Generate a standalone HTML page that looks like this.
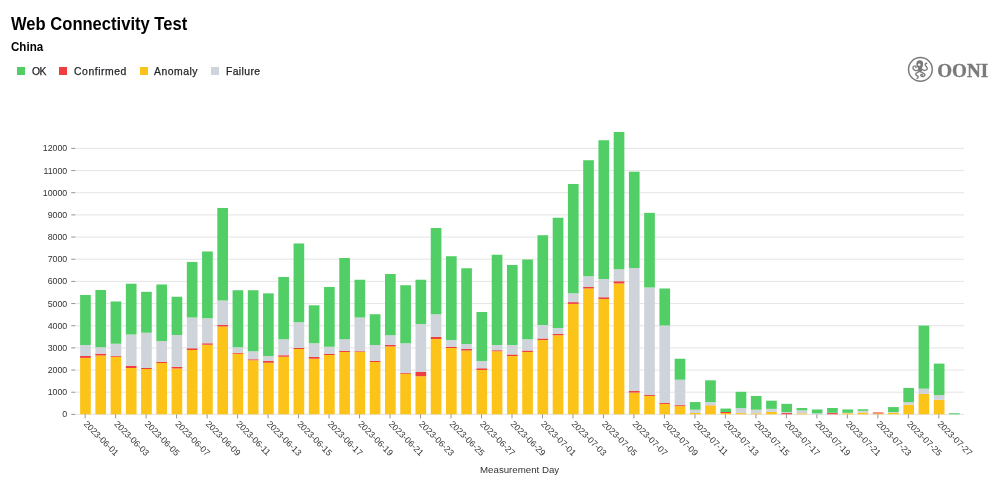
<!DOCTYPE html>
<html lang="en"><head><meta charset="utf-8"><title>Web Connectivity Test - China</title>
<style>
html,body{margin:0;padding:0;background:#fff;}
body{width:1000px;height:504px;position:relative;overflow:hidden;font-family:"Liberation Sans",sans-serif;color:#000;}
.title{position:absolute;left:11.2px;top:11.8px;font-size:17.5px;font-weight:bold;line-height:24px;white-space:nowrap;transform:scaleX(0.947);transform-origin:0 0;}
.sub{position:absolute;left:11.2px;top:38.3px;font-size:12.6px;font-weight:bold;line-height:18px;white-space:nowrap;transform:scaleX(0.92);transform-origin:0 0;}
.leg{position:absolute;top:63.8px;height:16px;line-height:16px;font-size:10.4px;color:#1f2226;white-space:nowrap;-webkit-text-stroke:0.25px #1f2226;}
.sw{position:absolute;top:67.3px;width:8px;height:8px;}
svg{position:absolute;left:0;top:0;}
.tk text{font-family:"Liberation Sans",sans-serif;font-size:8.8px;fill:#333333;}
.lg{font-family:"Liberation Sans",sans-serif;font-size:9.7px;fill:#333333;}
.ooni{font-family:"Liberation Serif",serif;font-weight:bold;font-size:19px;fill:#7a7a7a;stroke:#7a7a7a;stroke-width:0.35px;}
</style></head><body>
<div class="title">Web Connectivity Test</div>
<div class="sub">China</div>
<span class="sw" style="left:17.4px;background:#51cf66"></span><span class="leg" style="left:32px;letter-spacing:-0.7px">OK</span>
<span class="sw" style="left:59px;background:#f03e3e"></span><span class="leg" style="left:74px;letter-spacing:0.55px">Confirmed</span>
<span class="sw" style="left:139.7px;background:#fcc419"></span><span class="leg" style="left:154px;letter-spacing:0.52px">Anomaly</span>
<span class="sw" style="left:211px;background:#ced4da"></span><span class="leg" style="left:225.9px;letter-spacing:0.4px">Failure</span>
<svg width="1000" height="504" viewBox="0 0 1000 504">
<g stroke="#dddddd" stroke-width="0.8"><line x1="75.25" x2="964.00" y1="414.40" y2="414.40"/><line x1="75.25" x2="964.00" y1="392.23" y2="392.23"/><line x1="75.25" x2="964.00" y1="370.07" y2="370.07"/><line x1="75.25" x2="964.00" y1="347.90" y2="347.90"/><line x1="75.25" x2="964.00" y1="325.73" y2="325.73"/><line x1="75.25" x2="964.00" y1="303.57" y2="303.57"/><line x1="75.25" x2="964.00" y1="281.40" y2="281.40"/><line x1="75.25" x2="964.00" y1="259.23" y2="259.23"/><line x1="75.25" x2="964.00" y1="237.07" y2="237.07"/><line x1="75.25" x2="964.00" y1="214.90" y2="214.90"/><line x1="75.25" x2="964.00" y1="192.73" y2="192.73"/><line x1="75.25" x2="964.00" y1="170.57" y2="170.57"/><line x1="75.25" x2="964.00" y1="148.40" y2="148.40"/></g>
<g><rect x="80.12" y="357.89" width="10.67" height="56.41" fill="#fcc419"/><rect x="80.12" y="355.99" width="10.67" height="1.90" fill="#f03e3e"/><rect x="80.12" y="344.99" width="10.67" height="11.00" fill="#ced4da"/><rect x="80.12" y="294.99" width="10.67" height="50.00" fill="#51cf66"/><rect x="95.37" y="355.52" width="10.67" height="58.78" fill="#fcc419"/><rect x="95.37" y="353.62" width="10.67" height="1.90" fill="#f03e3e"/><rect x="95.37" y="347.25" width="10.67" height="6.37" fill="#ced4da"/><rect x="95.37" y="289.99" width="10.67" height="57.26" fill="#51cf66"/><rect x="110.61" y="356.74" width="10.67" height="57.56" fill="#fcc419"/><rect x="110.61" y="355.75" width="10.67" height="1.00" fill="#f03e3e"/><rect x="110.61" y="343.75" width="10.67" height="12.00" fill="#ced4da"/><rect x="110.61" y="301.47" width="10.67" height="42.27" fill="#51cf66"/><rect x="125.86" y="367.98" width="10.67" height="46.32" fill="#fcc419"/><rect x="125.86" y="365.99" width="10.67" height="1.99" fill="#f03e3e"/><rect x="125.86" y="334.50" width="10.67" height="31.50" fill="#ced4da"/><rect x="125.86" y="283.72" width="10.67" height="50.77" fill="#51cf66"/><rect x="141.10" y="369.00" width="10.67" height="45.30" fill="#fcc419"/><rect x="141.10" y="367.98" width="10.67" height="1.02" fill="#f03e3e"/><rect x="141.10" y="332.75" width="10.67" height="35.24" fill="#ced4da"/><rect x="141.10" y="291.82" width="10.67" height="40.92" fill="#51cf66"/><rect x="156.35" y="362.98" width="10.67" height="51.32" fill="#fcc419"/><rect x="156.35" y="361.74" width="10.67" height="1.24" fill="#f03e3e"/><rect x="156.35" y="340.98" width="10.67" height="20.76" fill="#ced4da"/><rect x="156.35" y="284.48" width="10.67" height="56.51" fill="#51cf66"/><rect x="171.59" y="368.49" width="10.67" height="45.81" fill="#fcc419"/><rect x="171.59" y="366.75" width="10.67" height="1.75" fill="#f03e3e"/><rect x="171.59" y="334.98" width="10.67" height="31.76" fill="#ced4da"/><rect x="171.59" y="296.74" width="10.67" height="38.25" fill="#51cf66"/><rect x="186.83" y="349.99" width="10.67" height="64.31" fill="#fcc419"/><rect x="186.83" y="348.24" width="10.67" height="1.75" fill="#f03e3e"/><rect x="186.83" y="317.48" width="10.67" height="30.77" fill="#ced4da"/><rect x="186.83" y="261.97" width="10.67" height="55.51" fill="#51cf66"/><rect x="202.08" y="344.74" width="10.67" height="69.56" fill="#fcc419"/><rect x="202.08" y="343.24" width="10.67" height="1.51" fill="#f03e3e"/><rect x="202.08" y="318.23" width="10.67" height="25.01" fill="#ced4da"/><rect x="202.08" y="251.47" width="10.67" height="66.75" fill="#51cf66"/><rect x="217.32" y="326.48" width="10.67" height="87.82" fill="#fcc419"/><rect x="217.32" y="324.74" width="10.67" height="1.75" fill="#f03e3e"/><rect x="217.32" y="300.48" width="10.67" height="24.26" fill="#ced4da"/><rect x="217.32" y="207.96" width="10.67" height="92.52" fill="#51cf66"/><rect x="232.57" y="353.75" width="10.67" height="60.55" fill="#fcc419"/><rect x="232.57" y="352.73" width="10.67" height="1.02" fill="#f03e3e"/><rect x="232.57" y="347.25" width="10.67" height="5.49" fill="#ced4da"/><rect x="232.57" y="290.23" width="10.67" height="57.02" fill="#51cf66"/><rect x="247.81" y="360.24" width="10.67" height="54.06" fill="#fcc419"/><rect x="247.81" y="359.24" width="10.67" height="1.00" fill="#f03e3e"/><rect x="247.81" y="351.23" width="10.67" height="8.01" fill="#ced4da"/><rect x="247.81" y="290.23" width="10.67" height="61.00" fill="#51cf66"/><rect x="263.06" y="362.74" width="10.67" height="51.56" fill="#fcc419"/><rect x="263.06" y="360.99" width="10.67" height="1.75" fill="#f03e3e"/><rect x="263.06" y="355.99" width="10.67" height="5.00" fill="#ced4da"/><rect x="263.06" y="293.37" width="10.67" height="62.62" fill="#51cf66"/><rect x="278.30" y="356.74" width="10.67" height="57.56" fill="#fcc419"/><rect x="278.30" y="355.24" width="10.67" height="1.51" fill="#f03e3e"/><rect x="278.30" y="339.23" width="10.67" height="16.00" fill="#ced4da"/><rect x="278.30" y="276.97" width="10.67" height="62.26" fill="#51cf66"/><rect x="293.55" y="348.99" width="10.67" height="65.31" fill="#fcc419"/><rect x="293.55" y="348.00" width="10.67" height="1.00" fill="#f03e3e"/><rect x="293.55" y="322.24" width="10.67" height="25.76" fill="#ced4da"/><rect x="293.55" y="243.46" width="10.67" height="78.77" fill="#51cf66"/><rect x="308.79" y="358.73" width="10.67" height="55.57" fill="#fcc419"/><rect x="308.79" y="356.98" width="10.67" height="1.75" fill="#f03e3e"/><rect x="308.79" y="343.24" width="10.67" height="13.74" fill="#ced4da"/><rect x="308.79" y="305.33" width="10.67" height="37.91" fill="#51cf66"/><rect x="324.03" y="354.99" width="10.67" height="59.31" fill="#fcc419"/><rect x="324.03" y="354.00" width="10.67" height="1.00" fill="#f03e3e"/><rect x="324.03" y="346.74" width="10.67" height="7.26" fill="#ced4da"/><rect x="324.03" y="286.98" width="10.67" height="59.76" fill="#51cf66"/><rect x="339.28" y="351.98" width="10.67" height="62.32" fill="#fcc419"/><rect x="339.28" y="350.74" width="10.67" height="1.24" fill="#f03e3e"/><rect x="339.28" y="339.23" width="10.67" height="11.51" fill="#ced4da"/><rect x="339.28" y="257.98" width="10.67" height="81.25" fill="#51cf66"/><rect x="354.52" y="351.98" width="10.67" height="62.32" fill="#fcc419"/><rect x="354.52" y="351.23" width="10.67" height="0.75" fill="#f03e3e"/><rect x="354.52" y="317.48" width="10.67" height="33.75" fill="#ced4da"/><rect x="354.52" y="279.74" width="10.67" height="37.74" fill="#51cf66"/><rect x="369.77" y="361.99" width="10.67" height="52.31" fill="#fcc419"/><rect x="369.77" y="360.99" width="10.67" height="1.00" fill="#f03e3e"/><rect x="369.77" y="344.99" width="10.67" height="16.00" fill="#ced4da"/><rect x="369.77" y="314.22" width="10.67" height="30.77" fill="#51cf66"/><rect x="385.01" y="346.49" width="10.67" height="67.81" fill="#fcc419"/><rect x="385.01" y="344.99" width="10.67" height="1.51" fill="#f03e3e"/><rect x="385.01" y="335.23" width="10.67" height="9.76" fill="#ced4da"/><rect x="385.01" y="273.98" width="10.67" height="61.24" fill="#51cf66"/><rect x="400.26" y="373.74" width="10.67" height="40.56" fill="#fcc419"/><rect x="400.26" y="372.99" width="10.67" height="0.75" fill="#f03e3e"/><rect x="400.26" y="343.24" width="10.67" height="29.75" fill="#ced4da"/><rect x="400.26" y="285.23" width="10.67" height="58.01" fill="#51cf66"/><rect x="415.50" y="376.24" width="10.67" height="38.06" fill="#fcc419"/><rect x="415.50" y="371.99" width="10.67" height="4.25" fill="#f03e3e"/><rect x="415.50" y="323.98" width="10.67" height="48.01" fill="#ced4da"/><rect x="415.50" y="279.74" width="10.67" height="44.24" fill="#51cf66"/><rect x="430.75" y="338.99" width="10.67" height="75.31" fill="#fcc419"/><rect x="430.75" y="336.98" width="10.67" height="2.01" fill="#f03e3e"/><rect x="430.75" y="314.22" width="10.67" height="22.75" fill="#ced4da"/><rect x="430.75" y="227.97" width="10.67" height="86.25" fill="#51cf66"/><rect x="445.99" y="348.00" width="10.67" height="66.30" fill="#fcc419"/><rect x="445.99" y="346.98" width="10.67" height="1.02" fill="#f03e3e"/><rect x="445.99" y="339.99" width="10.67" height="6.99" fill="#ced4da"/><rect x="445.99" y="256.23" width="10.67" height="83.75" fill="#51cf66"/><rect x="461.23" y="350.50" width="10.67" height="63.80" fill="#fcc419"/><rect x="461.23" y="348.99" width="10.67" height="1.51" fill="#f03e3e"/><rect x="461.23" y="343.99" width="10.67" height="5.00" fill="#ced4da"/><rect x="461.23" y="268.23" width="10.67" height="75.76" fill="#51cf66"/><rect x="476.48" y="370.00" width="10.67" height="44.30" fill="#fcc419"/><rect x="476.48" y="368.25" width="10.67" height="1.75" fill="#f03e3e"/><rect x="476.48" y="360.99" width="10.67" height="7.26" fill="#ced4da"/><rect x="476.48" y="311.99" width="10.67" height="49.00" fill="#51cf66"/><rect x="491.72" y="351.23" width="10.67" height="63.07" fill="#fcc419"/><rect x="491.72" y="350.23" width="10.67" height="1.00" fill="#f03e3e"/><rect x="491.72" y="344.99" width="10.67" height="5.25" fill="#ced4da"/><rect x="491.72" y="254.73" width="10.67" height="90.26" fill="#51cf66"/><rect x="506.97" y="355.99" width="10.67" height="58.31" fill="#fcc419"/><rect x="506.97" y="354.48" width="10.67" height="1.51" fill="#f03e3e"/><rect x="506.97" y="344.99" width="10.67" height="9.50" fill="#ced4da"/><rect x="506.97" y="264.98" width="10.67" height="80.01" fill="#51cf66"/><rect x="522.21" y="351.98" width="10.67" height="62.32" fill="#fcc419"/><rect x="522.21" y="350.50" width="10.67" height="1.48" fill="#f03e3e"/><rect x="522.21" y="339.23" width="10.67" height="11.27" fill="#ced4da"/><rect x="522.21" y="259.47" width="10.67" height="79.77" fill="#51cf66"/><rect x="537.46" y="339.99" width="10.67" height="74.31" fill="#fcc419"/><rect x="537.46" y="338.48" width="10.67" height="1.51" fill="#f03e3e"/><rect x="537.46" y="324.98" width="10.67" height="13.50" fill="#ced4da"/><rect x="537.46" y="235.23" width="10.67" height="89.75" fill="#51cf66"/><rect x="552.70" y="335.23" width="10.67" height="79.07" fill="#fcc419"/><rect x="552.70" y="333.99" width="10.67" height="1.24" fill="#f03e3e"/><rect x="552.70" y="327.99" width="10.67" height="6.00" fill="#ced4da"/><rect x="552.70" y="217.72" width="10.67" height="110.27" fill="#51cf66"/><rect x="567.94" y="303.89" width="10.67" height="110.41" fill="#fcc419"/><rect x="567.94" y="302.12" width="10.67" height="1.77" fill="#f03e3e"/><rect x="567.94" y="293.24" width="10.67" height="8.88" fill="#ced4da"/><rect x="567.94" y="183.97" width="10.67" height="109.27" fill="#51cf66"/><rect x="583.19" y="288.48" width="10.67" height="125.82" fill="#fcc419"/><rect x="583.19" y="286.98" width="10.67" height="1.51" fill="#f03e3e"/><rect x="583.19" y="276.22" width="10.67" height="10.76" fill="#ced4da"/><rect x="583.19" y="160.22" width="10.67" height="116.00" fill="#51cf66"/><rect x="598.43" y="298.97" width="10.67" height="115.33" fill="#fcc419"/><rect x="598.43" y="297.22" width="10.67" height="1.75" fill="#f03e3e"/><rect x="598.43" y="278.99" width="10.67" height="18.24" fill="#ced4da"/><rect x="598.43" y="140.21" width="10.67" height="138.78" fill="#51cf66"/><rect x="613.68" y="283.48" width="10.67" height="130.82" fill="#fcc419"/><rect x="613.68" y="281.22" width="10.67" height="2.26" fill="#f03e3e"/><rect x="613.68" y="269.23" width="10.67" height="12.00" fill="#ced4da"/><rect x="613.68" y="131.95" width="10.67" height="137.27" fill="#51cf66"/><rect x="628.92" y="392.57" width="10.67" height="21.73" fill="#fcc419"/><rect x="628.92" y="391.00" width="10.67" height="1.57" fill="#f03e3e"/><rect x="628.92" y="267.99" width="10.67" height="123.02" fill="#ced4da"/><rect x="628.92" y="171.71" width="10.67" height="96.28" fill="#51cf66"/><rect x="644.17" y="395.94" width="10.67" height="18.36" fill="#fcc419"/><rect x="644.17" y="395.01" width="10.67" height="0.93" fill="#f03e3e"/><rect x="644.17" y="287.49" width="10.67" height="107.52" fill="#ced4da"/><rect x="644.17" y="212.85" width="10.67" height="74.63" fill="#51cf66"/><rect x="659.41" y="403.93" width="10.67" height="10.37" fill="#fcc419"/><rect x="659.41" y="403.00" width="10.67" height="0.93" fill="#f03e3e"/><rect x="659.41" y="325.49" width="10.67" height="77.51" fill="#ced4da"/><rect x="659.41" y="288.48" width="10.67" height="37.01" fill="#51cf66"/><rect x="674.66" y="406.14" width="10.67" height="8.16" fill="#fcc419"/><rect x="674.66" y="405.15" width="10.67" height="1.00" fill="#f03e3e"/><rect x="674.66" y="379.74" width="10.67" height="25.41" fill="#ced4da"/><rect x="674.66" y="358.73" width="10.67" height="21.00" fill="#51cf66"/><rect x="689.90" y="413.00" width="10.67" height="1.30" fill="#fcc419"/><rect x="689.90" y="409.68" width="10.67" height="3.32" fill="#ced4da"/><rect x="689.90" y="402.05" width="10.67" height="7.64" fill="#51cf66"/><rect x="705.14" y="405.43" width="10.67" height="8.87" fill="#fcc419"/><rect x="705.14" y="405.26" width="10.67" height="0.18" fill="#f03e3e"/><rect x="705.14" y="402.05" width="10.67" height="3.21" fill="#ced4da"/><rect x="705.14" y="380.31" width="10.67" height="21.73" fill="#51cf66"/><rect x="720.39" y="413.00" width="10.67" height="1.30" fill="#fcc419"/><rect x="720.39" y="412.01" width="10.67" height="1.00" fill="#f03e3e"/><rect x="720.39" y="408.56" width="10.67" height="3.45" fill="#51cf66"/><rect x="735.63" y="413.11" width="10.67" height="1.19" fill="#fcc419"/><rect x="735.63" y="408.02" width="10.67" height="5.09" fill="#ced4da"/><rect x="735.63" y="391.82" width="10.67" height="16.20" fill="#51cf66"/><rect x="750.88" y="413.34" width="10.67" height="0.96" fill="#fcc419"/><rect x="750.88" y="409.68" width="10.67" height="3.65" fill="#ced4da"/><rect x="750.88" y="395.94" width="10.67" height="13.74" fill="#51cf66"/><rect x="766.12" y="412.01" width="10.67" height="2.29" fill="#fcc419"/><rect x="766.12" y="408.87" width="10.67" height="3.14" fill="#ced4da"/><rect x="766.12" y="400.68" width="10.67" height="8.19" fill="#51cf66"/><rect x="781.37" y="413.07" width="10.67" height="1.23" fill="#f03e3e"/><rect x="781.37" y="412.12" width="10.67" height="0.95" fill="#ced4da"/><rect x="781.37" y="403.84" width="10.67" height="8.28" fill="#51cf66"/><rect x="796.61" y="413.34" width="10.67" height="0.96" fill="#fcc419"/><rect x="796.61" y="410.30" width="10.67" height="3.03" fill="#ced4da"/><rect x="796.61" y="408.00" width="10.67" height="2.30" fill="#51cf66"/><rect x="811.86" y="413.34" width="10.67" height="0.96" fill="#ced4da"/><rect x="811.86" y="409.46" width="10.67" height="3.87" fill="#51cf66"/><rect x="827.10" y="413.07" width="10.67" height="1.23" fill="#f03e3e"/><rect x="827.10" y="412.78" width="10.67" height="0.29" fill="#ced4da"/><rect x="827.10" y="408.00" width="10.67" height="4.78" fill="#51cf66"/><rect x="842.34" y="413.23" width="10.67" height="1.07" fill="#fcc419"/><rect x="842.34" y="412.78" width="10.67" height="0.44" fill="#ced4da"/><rect x="842.34" y="409.46" width="10.67" height="3.32" fill="#51cf66"/><rect x="857.59" y="412.56" width="10.67" height="1.74" fill="#fcc419"/><rect x="857.59" y="410.79" width="10.67" height="1.77" fill="#ced4da"/><rect x="857.59" y="409.24" width="10.67" height="1.55" fill="#51cf66"/><rect x="872.83" y="413.38" width="10.67" height="0.92" fill="#fcc419"/><rect x="872.83" y="412.45" width="10.67" height="0.93" fill="#f03e3e"/><rect x="888.08" y="412.72" width="10.67" height="1.58" fill="#fcc419"/><rect x="888.08" y="412.07" width="10.67" height="0.64" fill="#ced4da"/><rect x="888.08" y="407.07" width="10.67" height="5.00" fill="#51cf66"/><rect x="903.32" y="404.70" width="10.67" height="9.60" fill="#fcc419"/><rect x="903.32" y="402.16" width="10.67" height="2.55" fill="#ced4da"/><rect x="903.32" y="387.93" width="10.67" height="14.23" fill="#51cf66"/><rect x="918.57" y="393.99" width="10.67" height="20.31" fill="#fcc419"/><rect x="918.57" y="388.66" width="10.67" height="5.33" fill="#ced4da"/><rect x="918.57" y="325.60" width="10.67" height="63.06" fill="#51cf66"/><rect x="933.81" y="399.77" width="10.67" height="14.53" fill="#fcc419"/><rect x="933.81" y="395.01" width="10.67" height="4.76" fill="#ced4da"/><rect x="933.81" y="363.60" width="10.67" height="31.41" fill="#51cf66"/><rect x="949.06" y="413.25" width="10.67" height="1.05" fill="#51cf66"/></g>
<g stroke="#777777" stroke-width="0.8"><line x1="71.25" x2="75.25" y1="414.40" y2="414.40"/><line x1="71.25" x2="75.25" y1="392.23" y2="392.23"/><line x1="71.25" x2="75.25" y1="370.07" y2="370.07"/><line x1="71.25" x2="75.25" y1="347.90" y2="347.90"/><line x1="71.25" x2="75.25" y1="325.73" y2="325.73"/><line x1="71.25" x2="75.25" y1="303.57" y2="303.57"/><line x1="71.25" x2="75.25" y1="281.40" y2="281.40"/><line x1="71.25" x2="75.25" y1="259.23" y2="259.23"/><line x1="71.25" x2="75.25" y1="237.07" y2="237.07"/><line x1="71.25" x2="75.25" y1="214.90" y2="214.90"/><line x1="71.25" x2="75.25" y1="192.73" y2="192.73"/><line x1="71.25" x2="75.25" y1="170.57" y2="170.57"/><line x1="71.25" x2="75.25" y1="148.40" y2="148.40"/></g>
<g class="tk"><text x="67.25" y="414.40" text-anchor="end" dominant-baseline="central">0</text><text x="67.25" y="392.23" text-anchor="end" dominant-baseline="central">1000</text><text x="67.25" y="370.07" text-anchor="end" dominant-baseline="central">2000</text><text x="67.25" y="347.90" text-anchor="end" dominant-baseline="central">3000</text><text x="67.25" y="325.73" text-anchor="end" dominant-baseline="central">4000</text><text x="67.25" y="303.57" text-anchor="end" dominant-baseline="central">5000</text><text x="67.25" y="281.40" text-anchor="end" dominant-baseline="central">6000</text><text x="67.25" y="259.23" text-anchor="end" dominant-baseline="central">7000</text><text x="67.25" y="237.07" text-anchor="end" dominant-baseline="central">8000</text><text x="67.25" y="214.90" text-anchor="end" dominant-baseline="central">9000</text><text x="67.25" y="192.73" text-anchor="end" dominant-baseline="central">10000</text><text x="67.25" y="170.57" text-anchor="end" dominant-baseline="central">11000</text><text x="67.25" y="148.40" text-anchor="end" dominant-baseline="central">12000</text></g>
<g stroke="#777777" stroke-width="0.8"><line x1="85.16" x2="85.16" y1="414.40" y2="418.40"/><line x1="115.65" x2="115.65" y1="414.40" y2="418.40"/><line x1="146.14" x2="146.14" y1="414.40" y2="418.40"/><line x1="176.63" x2="176.63" y1="414.40" y2="418.40"/><line x1="207.11" x2="207.11" y1="414.40" y2="418.40"/><line x1="237.60" x2="237.60" y1="414.40" y2="418.40"/><line x1="268.09" x2="268.09" y1="414.40" y2="418.40"/><line x1="298.58" x2="298.58" y1="414.40" y2="418.40"/><line x1="329.07" x2="329.07" y1="414.40" y2="418.40"/><line x1="359.56" x2="359.56" y1="414.40" y2="418.40"/><line x1="390.05" x2="390.05" y1="414.40" y2="418.40"/><line x1="420.54" x2="420.54" y1="414.40" y2="418.40"/><line x1="451.03" x2="451.03" y1="414.40" y2="418.40"/><line x1="481.51" x2="481.51" y1="414.40" y2="418.40"/><line x1="512.00" x2="512.00" y1="414.40" y2="418.40"/><line x1="542.49" x2="542.49" y1="414.40" y2="418.40"/><line x1="572.98" x2="572.98" y1="414.40" y2="418.40"/><line x1="603.47" x2="603.47" y1="414.40" y2="418.40"/><line x1="633.96" x2="633.96" y1="414.40" y2="418.40"/><line x1="664.45" x2="664.45" y1="414.40" y2="418.40"/><line x1="694.94" x2="694.94" y1="414.40" y2="418.40"/><line x1="725.42" x2="725.42" y1="414.40" y2="418.40"/><line x1="755.91" x2="755.91" y1="414.40" y2="418.40"/><line x1="786.40" x2="786.40" y1="414.40" y2="418.40"/><line x1="816.89" x2="816.89" y1="414.40" y2="418.40"/><line x1="847.38" x2="847.38" y1="414.40" y2="418.40"/><line x1="877.87" x2="877.87" y1="414.40" y2="418.40"/><line x1="908.36" x2="908.36" y1="414.40" y2="418.40"/><line x1="938.85" x2="938.85" y1="414.40" y2="418.40"/></g>
<g class="tk"><text transform="translate(85.36,422.40) rotate(45)" text-anchor="start" dominant-baseline="central">2023-06-01</text><text transform="translate(115.85,422.40) rotate(45)" text-anchor="start" dominant-baseline="central">2023-06-03</text><text transform="translate(146.34,422.40) rotate(45)" text-anchor="start" dominant-baseline="central">2023-06-05</text><text transform="translate(176.83,422.40) rotate(45)" text-anchor="start" dominant-baseline="central">2023-06-07</text><text transform="translate(207.31,422.40) rotate(45)" text-anchor="start" dominant-baseline="central">2023-06-09</text><text transform="translate(237.80,422.40) rotate(45)" text-anchor="start" dominant-baseline="central">2023-06-11</text><text transform="translate(268.29,422.40) rotate(45)" text-anchor="start" dominant-baseline="central">2023-06-13</text><text transform="translate(298.78,422.40) rotate(45)" text-anchor="start" dominant-baseline="central">2023-06-15</text><text transform="translate(329.27,422.40) rotate(45)" text-anchor="start" dominant-baseline="central">2023-06-17</text><text transform="translate(359.76,422.40) rotate(45)" text-anchor="start" dominant-baseline="central">2023-06-19</text><text transform="translate(390.25,422.40) rotate(45)" text-anchor="start" dominant-baseline="central">2023-06-21</text><text transform="translate(420.74,422.40) rotate(45)" text-anchor="start" dominant-baseline="central">2023-06-23</text><text transform="translate(451.23,422.40) rotate(45)" text-anchor="start" dominant-baseline="central">2023-06-25</text><text transform="translate(481.71,422.40) rotate(45)" text-anchor="start" dominant-baseline="central">2023-06-27</text><text transform="translate(512.20,422.40) rotate(45)" text-anchor="start" dominant-baseline="central">2023-06-29</text><text transform="translate(542.69,422.40) rotate(45)" text-anchor="start" dominant-baseline="central">2023-07-01</text><text transform="translate(573.18,422.40) rotate(45)" text-anchor="start" dominant-baseline="central">2023-07-03</text><text transform="translate(603.67,422.40) rotate(45)" text-anchor="start" dominant-baseline="central">2023-07-05</text><text transform="translate(634.16,422.40) rotate(45)" text-anchor="start" dominant-baseline="central">2023-07-07</text><text transform="translate(664.65,422.40) rotate(45)" text-anchor="start" dominant-baseline="central">2023-07-09</text><text transform="translate(695.14,422.40) rotate(45)" text-anchor="start" dominant-baseline="central">2023-07-11</text><text transform="translate(725.62,422.40) rotate(45)" text-anchor="start" dominant-baseline="central">2023-07-13</text><text transform="translate(756.11,422.40) rotate(45)" text-anchor="start" dominant-baseline="central">2023-07-15</text><text transform="translate(786.60,422.40) rotate(45)" text-anchor="start" dominant-baseline="central">2023-07-17</text><text transform="translate(817.09,422.40) rotate(45)" text-anchor="start" dominant-baseline="central">2023-07-19</text><text transform="translate(847.58,422.40) rotate(45)" text-anchor="start" dominant-baseline="central">2023-07-21</text><text transform="translate(878.07,422.40) rotate(45)" text-anchor="start" dominant-baseline="central">2023-07-23</text><text transform="translate(908.56,422.40) rotate(45)" text-anchor="start" dominant-baseline="central">2023-07-25</text><text transform="translate(939.05,422.40) rotate(45)" text-anchor="start" dominant-baseline="central">2023-07-27</text></g>
<text class="lg" x="519.62" y="469.80" text-anchor="middle" dominant-baseline="central">Measurement Day</text>
<g fill="none" stroke="#7a7a7a">
<circle cx="920.4" cy="69.4" r="11.85" stroke-width="1.5"/>
<g transform="translate(904,54) scale(0.06345)" stroke-width="21" stroke-linecap="round" stroke-linejoin="round">
<ellipse cx="248" cy="156" rx="54" ry="57" fill="#7a7a7a" stroke="none"/>
<path d="M206 190 L292 190 C282 215 288 240 284 262 C280 282 268 290 254 290 C238 290 228 278 226 258 C224 235 222 212 206 190 Z" fill="#7a7a7a" stroke="none"/>
<path d="M230 250 C205 272 165 264 148 240 C132 215 145 186 170 186 C188 186 196 202 188 216"/>
<path d="M282 245 C312 268 352 262 366 240 C378 220 350 200 338 180 C328 162 338 148 358 146"/>
<path d="M236 276 C215 292 180 300 184 322 C188 342 222 340 224 360 C225 374 216 382 206 386"/>
<path d="M264 280 C282 298 322 300 330 322 C336 342 312 358 290 356 C270 354 256 338 266 326 C274 316 292 320 294 334"/>
<circle cx="240" cy="170" r="20" fill="#ffffff" stroke="none"/>
<circle cx="237" cy="176" r="7" fill="#7a7a7a" stroke="none"/>
</g>
</g>
<text class="ooni" x="937.2" y="76.6" textLength="51" lengthAdjust="spacingAndGlyphs">OONI</text>

</svg>
</body></html>
